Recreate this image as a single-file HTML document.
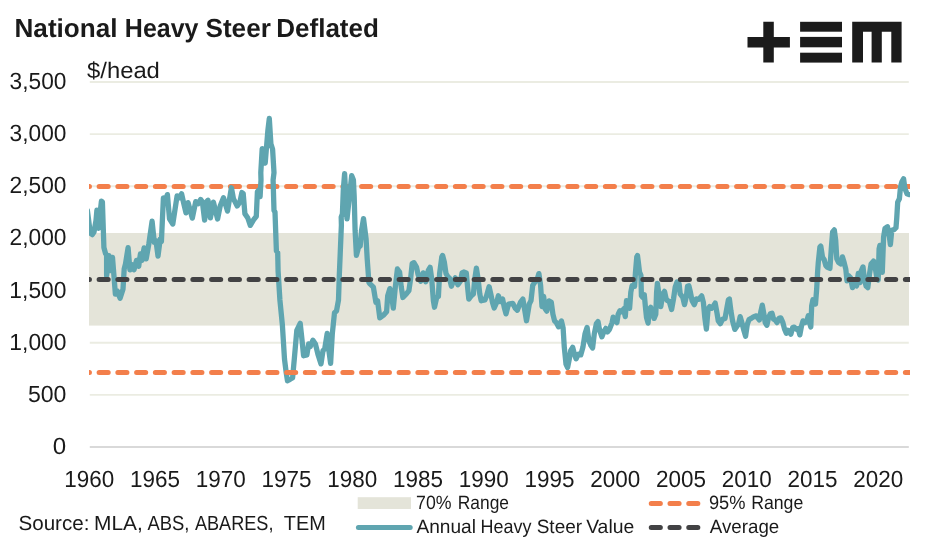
<!DOCTYPE html>
<html lang="en"><head><meta charset="utf-8"><title>National Heavy Steer Deflated</title>
<style>html,body{margin:0;padding:0;background:#fff}body{width:947px;height:539px;overflow:hidden}svg{display:block}text{text-rendering:geometricPrecision;font-family:"Liberation Sans",sans-serif;fill:#1a1a1a}</style>
</head><body>
<svg width="947" height="539" viewBox="0 0 947 539">
<rect width="947" height="539" fill="#ffffff"/>
<defs><clipPath id="plot"><rect x="89.0" y="60" width="821.0" height="400"/></clipPath></defs>
<line x1="89.8" x2="908.8" y1="394.86" y2="394.86" stroke="#EBECE2" stroke-width="1.9"/>
<line x1="89.8" x2="908.8" y1="342.71" y2="342.71" stroke="#EBECE2" stroke-width="1.9"/>
<line x1="89.8" x2="908.8" y1="290.57" y2="290.57" stroke="#EBECE2" stroke-width="1.9"/>
<line x1="89.8" x2="908.8" y1="238.43" y2="238.43" stroke="#EBECE2" stroke-width="1.9"/>
<line x1="89.8" x2="908.8" y1="186.28" y2="186.28" stroke="#EBECE2" stroke-width="1.9"/>
<line x1="89.8" x2="908.8" y1="134.14" y2="134.14" stroke="#EBECE2" stroke-width="1.9"/>
<line x1="89.8" x2="908.8" y1="82.00" y2="82.00" stroke="#EBECE2" stroke-width="1.9"/>
<rect x="89.0" y="233" width="820.0" height="92.6" fill="#E4E4D9"/>
<line x1="89.8" x2="908.8" y1="447.0" y2="447.0" stroke="#D9D9D9" stroke-width="1.8"/>
<g clip-path="url(#plot)" fill="none" stroke-linecap="round" stroke-linejoin="round">
<line x1="80.35" x2="930" y1="186.6" y2="186.6" stroke="#F37F4B" stroke-width="5.0" stroke-dasharray="9.1 9.65"/>
<path d="M87.4,210.5 L88.7,220.5 L90.3,233.3 L92.3,234.6 L94.0,232.0 L96.0,220.5 L96.9,210.2 L98.4,228.3 L101.4,201.2 L102.4,201.9 L103.9,247.5 L105.6,253.7 L106.6,255.0 L106.6,275.6 L109.0,255.7 L110.3,270.6 L112.5,257.4 L115.4,294.2 L117.1,290.8 L120.1,298.2 L123.0,289.1 L124.2,268.9 L125.5,263.8 L128.1,247.6 L129.9,269.9 L132.0,264.6 L134.0,269.7 L136.5,260.4 L138.7,266.3 L140.4,254.0 L141.9,260.4 L144.1,247.9 L146.2,258.9 L148.9,243.5 L152.1,221.2 L154.3,242.4 L156.0,240.8 L158.0,256.1 L160.2,239.1 L161.4,241.6 L163.4,197.8 L165.2,201.1 L167.4,194.6 L169.5,218.8 L172.8,224.0 L177.1,195.8 L179.3,197.7 L181.6,193.8 L183.8,203.6 L186.0,212.9 L188.1,202.7 L192.3,218.1 L195.7,201.7 L198.2,203.6 L200.7,199.5 L202.4,201.9 L204.6,220.1 L207.0,201.1 L208.0,200.2 L210.4,217.9 L213.4,202.2 L217.6,219.0 L220.2,206.1 L223.5,197.8 L227.5,211.1 L231.4,187.8 L233.4,198.6 L237.2,206.0 L239.9,202.0 L241.9,192.5 L243.2,193.5 L244.9,213.8 L247.8,218.0 L250.3,225.4 L253.7,219.7 L256.3,216.3 L257.4,191.8 L258.8,190.1 L260.1,196.6 L261.0,180.0 L260.8,172.6 L262.2,148.6 L265.2,163.1 L267.9,130.3 L269.3,118.5 L270.9,143.9 L272.6,149.3 L274.0,172.6 L273.1,180.0 L274.0,210.4 L275.0,212.1 L276.4,251.0 L277.7,252.7 L278.1,271.1 L279.9,300.0 L282.4,325.3 L284.5,359.1 L286.2,372.6 L287.5,380.8 L290.0,379.4 L292.6,377.7 L294.3,359.1 L296.8,330.4 L300.2,323.3 L301.9,338.9 L303.6,355.8 L306.9,354.9 L308.6,343.9 L310.3,346.5 L312.9,340.2 L315.4,343.9 L317.9,354.1 L321.0,363.9 L323.0,350.7 L324.7,349.0 L327.2,333.4 L328.9,350.7 L330.6,363.4 L332.3,333.8 L334.5,312.7 L336.5,311.0 L338.5,300.0 L339.3,275.7 L341.4,225.0 L341.2,217.2 L342.4,213.8 L343.3,190.1 L344.6,173.6 L347.0,218.9 L351.7,175.6 L353.4,180.0 L354.2,196.9 L355.1,230.7 L356.4,255.3 L358.5,247.6 L360.2,245.9 L361.5,230.7 L363.5,218.7 L366.1,239.1 L367.2,258.8 L368.9,282.4 L370.0,283.9 L373.4,287.2 L375.9,302.4 L377.6,300.8 L379.8,317.8 L383.5,315.1 L386.6,311.7 L387.7,295.7 L389.9,288.6 L391.6,295.7 L393.3,308.2 L395.3,287.2 L397.4,269.0 L399.6,272.0 L401.3,287.2 L402.9,297.5 L406.3,294.0 L408.9,290.6 L410.6,278.8 L412.2,263.6 L413.9,262.7 L416.5,267.0 L418.1,274.6 L420.7,281.3 L423.2,272.9 L425.8,281.8 L428.3,270.3 L430.1,267.3 L431.7,278.8 L433.4,300.8 L434.5,307.2 L436.7,297.4 L438.4,296.5 L439.6,273.7 L441.8,256.8 L442.6,255.5 L444.3,261.9 L446.0,273.7 L448.1,277.1 L449.4,277.9 L451.4,286.2 L453.6,280.5 L455.3,277.9 L457.9,284.7 L460.4,281.3 L462.1,272.9 L463.8,272.0 L466.3,272.9 L467.6,287.2 L468.8,299.1 L471.4,295.7 L473.4,294.0 L474.8,278.8 L476.4,268.1 L478.1,278.8 L479.8,294.0 L481.2,300.8 L484.9,299.9 L486.6,295.7 L489.1,286.7 L490.8,294.0 L492.5,302.4 L494.2,308.0 L496.7,302.4 L498.4,295.7 L500.1,301.6 L502.6,299.1 L504.3,307.5 L506.0,313.9 L508.5,304.1 L512.8,303.3 L515.3,308.4 L517.3,310.2 L520.4,302.4 L522.9,299.1 L524.6,309.2 L526.5,320.7 L529.3,304.0 L531.0,300.6 L532.7,285.4 L534.9,282.0 L536.9,280.3 L538.9,273.6 L540.6,285.4 L542.0,306.5 L543.6,296.4 L545.3,309.1 L546.7,311.1 L549.1,300.9 L551.3,302.3 L552.9,314.1 L554.6,320.9 L556.3,322.6 L558.5,326.8 L561.4,320.9 L563.1,327.9 L564.3,347.3 L566.0,364.2 L567.6,367.6 L569.3,359.1 L570.7,350.7 L572.7,347.3 L574.4,354.1 L576.1,358.8 L578.3,354.1 L580.8,354.9 L582.9,347.3 L585.0,333.8 L587.1,327.4 L588.9,340.6 L591.0,345.6 L592.6,348.0 L594.3,333.8 L596.4,323.6 L598.0,321.5 L599.7,330.4 L601.9,336.8 L604.0,331.3 L605.8,328.4 L607.5,331.9 L609.5,329.3 L612.1,322.6 L613.2,317.1 L615.2,320.1 L616.9,322.6 L618.2,314.2 L619.9,310.8 L622.0,311.7 L623.6,309.1 L625.3,316.6 L626.5,300.7 L627.9,304.1 L629.6,308.3 L630.8,292.2 L632.1,285.8 L634.6,286.3 L635.5,272.0 L636.8,256.8 L637.5,255.6 L638.5,263.5 L639.5,272.0 L640.9,275.3 L641.4,295.6 L642.6,297.3 L644.3,294.8 L645.3,305.8 L646.5,317.6 L648.1,323.1 L649.3,309.1 L650.7,307.4 L652.4,312.5 L654.1,318.4 L655.8,314.2 L656.6,292.2 L657.4,283.3 L659.1,295.6 L660.8,306.6 L662.9,293.9 L664.5,291.4 L666.2,299.0 L667.6,300.7 L669.3,301.5 L671.6,309.5 L673.5,299.0 L675.2,287.2 L677.0,282.1 L679.1,283.8 L680.2,293.9 L682.8,297.3 L684.5,304.6 L686.5,295.6 L687.5,286.3 L688.9,285.8 L690.4,292.2 L692.1,300.7 L694.3,304.7 L696.3,299.0 L698.8,299.3 L701.7,295.9 L703.4,302.4 L704.8,317.6 L706.4,329.1 L708.1,309.1 L709.8,306.6 L711.5,308.3 L713.5,305.8 L715.2,303.1 L716.9,312.5 L718.3,321.0 L720.3,323.7 L722.5,319.3 L725.0,318.4 L726.7,309.1 L728.4,299.8 L729.4,299.0 L730.9,310.8 L732.6,321.0 L734.8,329.4 L737.2,326.0 L738.5,324.3 L740.2,316.6 L741.9,322.6 L743.6,329.4 L745.6,336.2 L747.3,324.3 L749.0,319.6 L751.2,318.4 L753.7,316.7 L756.3,315.9 L756.8,316.7 L759.3,320.0 L761.0,310.8 L762.3,305.2 L763.9,314.1 L765.2,322.6 L766.9,325.3 L768.6,317.5 L770.3,313.8 L772.0,313.3 L773.6,319.2 L775.3,320.0 L777.0,322.6 L779.1,318.4 L780.8,317.9 L782.9,322.6 L784.6,329.3 L786.3,333.2 L788.0,330.2 L790.9,334.1 L792.6,327.6 L794.3,327.1 L796.5,329.3 L798.1,328.5 L799.8,334.9 L801.5,326.0 L803.0,320.9 L804.9,322.6 L806.6,321.7 L808.3,315.8 L809.5,322.6 L810.8,327.0 L811.7,305.7 L812.9,299.8 L814.2,300.3 L815.5,304.0 L816.7,288.8 L817.6,271.9 L818.3,262.3 L819.9,247.1 L820.8,246.1 L822.5,257.2 L824.2,259.8 L825.9,265.7 L827.5,267.4 L829.9,268.4 L831.3,248.8 L832.6,231.9 L834.3,229.9 L835.7,240.3 L836.8,258.9 L838.5,262.3 L840.7,264.0 L842.4,256.9 L844.1,262.3 L845.8,269.1 L847.0,280.9 L848.7,275.8 L850.4,277.5 L852.5,287.6 L854.6,282.6 L856.6,286.0 L858.3,273.3 L860.0,282.6 L861.3,270.8 L863.0,266.9 L864.4,279.2 L866.1,286.0 L867.8,287.6 L869.5,274.1 L871.1,264.0 L873.5,261.1 L874.9,265.7 L876.5,275.8 L878.2,280.0 L879.1,248.8 L879.9,245.4 L881.3,248.8 L882.3,272.4 L883.6,237.0 L885.0,228.5 L887.5,226.8 L889.2,235.3 L890.4,244.6 L891.8,230.2 L894.3,229.4 L896.0,227.7 L896.8,217.3 L897.7,202.1 L899.4,198.7 L900.5,186.9 L901.9,181.8 L903.6,178.8 L904.9,188.6 L907.0,193.7 L909.0,194.5" stroke="#5FA5B0" stroke-width="5.3"/>
<line x1="80.35" x2="930" y1="372.6" y2="372.6" stroke="#F37F4B" stroke-width="5.0" stroke-dasharray="9.1 9.65"/>
<line x1="80.35" x2="930" y1="279.4" y2="279.4" stroke="#424244" stroke-width="5.0" stroke-dasharray="9.1 9.65"/>
</g>
<g fill="#1b1b1b">
<path d="M747.5 36.9H763.3V21.8H773.8V36.9H789.9V47.5H773.8V62.6H763.3V47.5H747.5Z"/>
<rect x="800.1" y="21.8" width="41.9" height="9.9"/><rect x="800.1" y="36.9" width="41.9" height="10.4"/><rect x="800.1" y="52.7" width="41.9" height="9.9"/>
<path d="M852.2 21.8H901.6V62.6H891.3V31.7H881.8V62.6H871.6V31.7H863V62.6H852.2Z"/>
</g>
<text id="title" y="37.0" font-size="26.0" font-weight="bold"><tspan x="14.53" textLength="103.01" lengthAdjust="spacingAndGlyphs">National</tspan> <tspan x="124.86" textLength="73.65" lengthAdjust="spacingAndGlyphs">Heavy</tspan> <tspan x="205.45" textLength="65.43" lengthAdjust="spacingAndGlyphs">Steer</tspan> <tspan x="276.23" textLength="102.66" lengthAdjust="spacingAndGlyphs">Deflated</tspan></text>
<text id="unit" y="77.6" font-size="22.6"><tspan x="87.07" textLength="72.8" lengthAdjust="spacingAndGlyphs">$/head</tspan></text>
<text id="leg1" y="508.5" font-size="19.2"><tspan x="416.1" textLength="35.49" lengthAdjust="spacingAndGlyphs">70%</tspan> <tspan x="457.78" textLength="51.19" lengthAdjust="spacingAndGlyphs">Range</tspan></text>
<text id="leg2" y="532.6" font-size="19.2"><tspan x="416.46" textLength="59.49" lengthAdjust="spacingAndGlyphs">Annual</tspan> <tspan x="480.56" textLength="50.9" lengthAdjust="spacingAndGlyphs">Heavy</tspan> <tspan x="536.68" textLength="45.49" lengthAdjust="spacingAndGlyphs">Steer</tspan> <tspan x="586.15" textLength="48.1" lengthAdjust="spacingAndGlyphs">Value</tspan></text>
<text id="leg3" y="508.5" font-size="19.2"><tspan x="708.95" textLength="36.54" lengthAdjust="spacingAndGlyphs">95%</tspan> <tspan x="751.17" textLength="52.11" lengthAdjust="spacingAndGlyphs">Range</tspan></text>
<text id="leg4" y="532.6" font-size="19.2"><tspan x="709.76" textLength="69.48" lengthAdjust="spacingAndGlyphs">Average</tspan></text>
<text id="src" y="529.6" font-size="20.3"><tspan x="18.45" textLength="71.07" lengthAdjust="spacingAndGlyphs">Source:</tspan> <tspan x="94.04" textLength="48.78" lengthAdjust="spacingAndGlyphs">MLA,</tspan> <tspan x="147.56" textLength="41.94" lengthAdjust="spacingAndGlyphs">ABS,</tspan> <tspan x="194.96" textLength="78.5" lengthAdjust="spacingAndGlyphs">ABARES,</tspan> <tspan x="283.78" textLength="41.9" lengthAdjust="spacingAndGlyphs">TEM</tspan></text>
<text x="52.65" y="453.9" font-size="23.4" textLength="13.41" lengthAdjust="spacingAndGlyphs">0</text>
<text x="27.9" y="401.8" font-size="23.4" textLength="38.52" lengthAdjust="spacingAndGlyphs">500</text>
<text x="9.36" y="349.6" font-size="23.4" textLength="57.15" lengthAdjust="spacingAndGlyphs">1,000</text>
<text x="9.36" y="297.5" font-size="23.4" textLength="57.15" lengthAdjust="spacingAndGlyphs">1,500</text>
<text x="9.53" y="245.3" font-size="23.4" textLength="56.92" lengthAdjust="spacingAndGlyphs">2,000</text>
<text x="9.53" y="193.2" font-size="23.4" textLength="56.92" lengthAdjust="spacingAndGlyphs">2,500</text>
<text x="9.54" y="141.0" font-size="23.4" textLength="56.89" lengthAdjust="spacingAndGlyphs">3,000</text>
<text x="9.54" y="88.9" font-size="23.4" textLength="56.89" lengthAdjust="spacingAndGlyphs">3,500</text>
<text x="64.3" y="486.8" font-size="23.4" textLength="50" lengthAdjust="spacingAndGlyphs">1960</text>
<text x="130.1" y="486.8" font-size="23.4" textLength="50" lengthAdjust="spacingAndGlyphs">1965</text>
<text x="195.8" y="486.8" font-size="23.4" textLength="50" lengthAdjust="spacingAndGlyphs">1970</text>
<text x="261.6" y="486.8" font-size="23.4" textLength="50" lengthAdjust="spacingAndGlyphs">1975</text>
<text x="327.3" y="486.8" font-size="23.4" textLength="50" lengthAdjust="spacingAndGlyphs">1980</text>
<text x="393.1" y="486.8" font-size="23.4" textLength="50" lengthAdjust="spacingAndGlyphs">1985</text>
<text x="458.8" y="486.8" font-size="23.4" textLength="50" lengthAdjust="spacingAndGlyphs">1990</text>
<text x="524.5" y="486.8" font-size="23.4" textLength="50" lengthAdjust="spacingAndGlyphs">1995</text>
<text x="590.3" y="486.8" font-size="23.4" textLength="50" lengthAdjust="spacingAndGlyphs">2000</text>
<text x="656.0" y="486.8" font-size="23.4" textLength="50" lengthAdjust="spacingAndGlyphs">2005</text>
<text x="721.8" y="486.8" font-size="23.4" textLength="50" lengthAdjust="spacingAndGlyphs">2010</text>
<text x="787.5" y="486.8" font-size="23.4" textLength="50" lengthAdjust="spacingAndGlyphs">2015</text>
<text x="853.3" y="486.8" font-size="23.4" textLength="50" lengthAdjust="spacingAndGlyphs">2020</text>
<rect x="357.7" y="497.2" width="53.3" height="11.8" fill="#E4E4D9"/>
<line x1="358.4" x2="410.2" y1="527.6" y2="527.6" stroke="#5FA5B0" stroke-width="5.0" stroke-linecap="round"/>
<line x1="651.25" x2="700" y1="503.4" y2="503.4" stroke="#F37F4B" stroke-width="5.0" stroke-linecap="round" stroke-dasharray="9.1 9.65"/>
<line x1="651.25" x2="700" y1="527.4" y2="527.4" stroke="#424244" stroke-width="5.0" stroke-linecap="round" stroke-dasharray="9.1 9.65"/>
</svg></body></html>
